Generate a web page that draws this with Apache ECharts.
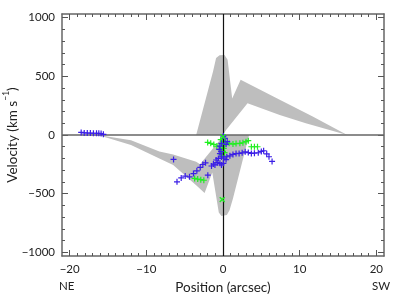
<!DOCTYPE html>
<html>
<head>
<meta charset="utf-8">
<script src="https://cdn.jsdelivr.net/npm/echarts@6/dist/echarts.min.js"></script>
<style>html,body{margin:0;padding:0;background:#fff}#c{width:399px;height:299px}</style>
</head>
<body>
<div id="c"></div>
<script>
// Axis ticks / labels
const xMajor = [-20, -10, 0, 10, 20];
const yMajor = [-1000, -500, 0, 500, 1000];
const xMinor = [];
for (let v = -20; v <= 20; v++) xMinor.push(v);
const yMinor = [];
for (let v = -1000; v <= 1000; v += 100) yMinor.push(v);

// Gray band outline (position arcsec, velocity km/s)
const bandPos = [-3.5, -1.3, -0.9, -0.45, 0.2, 0.6, 1.2, 2.3, 7.4, 11.7, 16.2, 10.8, 7.4, 3.2, 0.4, 0,
                 3.4, 1.3, 0.85, 0.5, -0.2, -0.55, -1.4, -2.4, -3.5, -6.5, -8.3, -12, -16.3, -12, -8.3, -6.5, -3.5, -3.0, -0.4, 0];
const bandVel = [0, 541, 656, 678, 680, 641, 310, 470, 299, 157, 0, 100, 171, 271, 43, 0,
                 0, -541, -641, -680, -690, -660, -320, -493, -427, -256, -200, -85, 0, -45, -140, -165, -228, -250, -43, 0];

// Blue '+' measurements
const bluePos = [-18.5, -18.1, -17.7, -17.3, -16.9, -16.5, -16.2, -15.9, -15.6,
                 -6.45,
                 -6.0, -5.45, -4.93, -4.37, -3.85, -3.41, -2.97, -2.63, -2.28, -1.98,
                 0.05, 0.25, 0.55, 0.4, -0.2, -0.4, -0.5, -0.25, -0.6, -0.9, -0.75, -0.4, -0.2, 0.05, -1.05, -1.5, -1.25, -0.4, -0.2, 0.1, 0.4,
                 0.5, 0.9, 1.3, 1.7, 2.1, 2.5, 2.9, 3.3, 3.7, 4.1, 4.6, 5.0, 5.3, 5.7, 6.0, 6.4];
const blueVel = [22, 18, 17, 16, 15, 15, 14, 12, 6,
                 -208,
                 -399, -365, -350, -356, -328, -305, -276, -251, -237, -342,
                 -9, -28, -57, -79, -71, -94, -122, -142, -199, -213, -236, -241, -255, -241, -255, -264, -247, -158, -187, -196, -209,
                 -185, -177, -165, -158, -157, -152, -143, -150, -157, -155, -151, -140, -134, -160, -185, -225];

// Green '+' measurements
const greenPos = [-3.7, -3.3, -2.9, -2.5,
                  -2.0, -1.6, -1.2, -0.8,
                  0.8, 1.3, 1.7, 2.2, 2.6, 3.0, 3.3,
                  3.7, 4.1, 4.5,
                  -0.3, 0, -0.2, 0.2, -0.1, 0.1, -0.3, 0, 0.2, -0.2, 0, 0.3];
const greenVel = [-370, -375, -380, -385,
                  -63, -71, -80, -94,
                  -71, -77, -73, -71, -66, -57, -48,
                  -100, -100, -100,
                  -40, -55, -75, -85, -100, -115, -125, -140, -150, -165, -180, -60];

// Green 'x' measurements
const greenXPos = [0, -0.1];
const greenXVel = [-15, -550];

const FONT = 'Lato, "Open Sans", sans-serif';
const PLUS = 'path://M3.6,0H5.4V3.6H9V5.4H5.4V9H3.6V5.4H0V3.6H3.6Z';
const zip = (a, b) => a.map((v, i) => [v, b[i]]);
const minus = v => String(v).replace('-', '\u2212');

function mkX(position, index, show, withLine) {
  return {
    type: 'value', gridIndex: 0, position: position, min: -21, max: 21,
    axisLine: { show: withLine, onZero: false, lineStyle: { color: '#666', width: 1.5 } },
    axisTick: { show: true, inside: true, length: index ? 3 : 6, customValues: index ? xMinor : xMajor, lineStyle: { color: '#555', width: 1 } },
    axisLabel: { show: show, customValues: xMajor, formatter: minus, color: '#222', fontFamily: FONT, fontSize: 11.5, margin: 7 },
    splitLine: { show: false }
  };
}
function mkY(position, index, show, withLine) {
  return {
    type: 'value', gridIndex: 0, position: position, min: -1030, max: 1030,
    axisLine: { show: withLine, onZero: false, lineStyle: { color: '#666', width: 1.5 } },
    axisTick: { show: true, inside: true, length: index ? 3 : 6, customValues: index ? yMinor : yMajor, lineStyle: { color: '#555', width: 1 } },
    axisLabel: { show: show, customValues: yMajor, formatter: minus, color: '#222', fontFamily: FONT, fontSize: 11.5, margin: 7 },
    splitLine: { show: false }
  };
}

const xAxes = [mkX('bottom', 0, true, true), mkX('bottom', 1, false, false), mkX('top', 0, false, true), mkX('top', 1, false, false)];
xAxes[0].name = 'Position (arcsec)';
xAxes[0].nameLocation = 'middle';
xAxes[0].nameGap = 25;
xAxes[0].nameMoveOverlap = false;
xAxes[0].nameTextStyle = { fontFamily: FONT, fontSize: 13.5, color: '#222' };
const yAxes = [mkY('left', 0, true, true), mkY('left', 1, false, false), mkY('right', 0, false, true), mkY('right', 1, false, false)];
yAxes[0].name = 'Velocity (km s{sup|\u22121})';
yAxes[0].nameLocation = 'middle';
yAxes[0].nameGap = 38;
yAxes[0].nameMoveOverlap = false;
yAxes[0].nameTextStyle = { fontFamily: FONT, fontSize: 13.5, color: '#222',
  rich: { sup: { fontFamily: FONT, fontSize: 8.5, color: '#222', verticalAlign: 'top', lineHeight: 22 } } };

const chart = echarts.init(document.getElementById('c'), null, { renderer: 'canvas' });
chart.setOption({
  animation: false,
  backgroundColor: '#fff',
  grid: { left: 62, right: 15, top: 14, bottom: 43, containLabel: false, outerBoundsMode: 'none' },
  xAxis: xAxes,
  yAxis: yAxes,
  graphic: [
    { type: 'text', left: 59, top: 280, style: { text: 'NE', fontFamily: FONT, fontSize: 11.5, fill: '#222' } },
    { type: 'text', left: 372, top: 280, style: { text: 'SW', fontFamily: FONT, fontSize: 11.5, fill: '#222' } }
  ],
  series: [
    {
      type: 'custom', z: 2, silent: true,
      data: [[0, 0]],
      renderItem: function (params, api) {
        const pts = bandPos.map((p, i) => api.coord([p, bandVel[i]]));
        return { type: 'polygon', shape: { points: pts }, style: { fill: '#bebebe', stroke: null } };
      }
    },
    {
      type: 'line', z: 3, data: [], silent: true,
      markLine: {
        silent: true, symbol: 'none', label: { show: false },
        data: [
          { yAxis: 0, lineStyle: { color: '#666', width: 1.5, type: 'solid' } },
          { xAxis: 0, lineStyle: { color: '#111', width: 1.2, type: 'solid' } }
        ]
      }
    },
    {
      type: 'scatter', z: 4, symbol: PLUS, symbolSize: 6,
      itemStyle: { color: '#22ee22', opacity: 1 },
      data: zip(greenPos, greenVel)
    },
    {
      type: 'scatter', z: 5, symbol: PLUS, symbolSize: 6,
      itemStyle: { color: '#3b1fe6', opacity: 1 },
      data: zip(bluePos, blueVel)
    },
    {
      type: 'scatter', z: 6, symbol: PLUS, symbolSize: 7, symbolRotate: 45,
      itemStyle: { color: '#22ee22', opacity: 1 },
      data: zip(greenXPos, greenXVel)
    }
  ]
});
</script>
</body>
</html>
